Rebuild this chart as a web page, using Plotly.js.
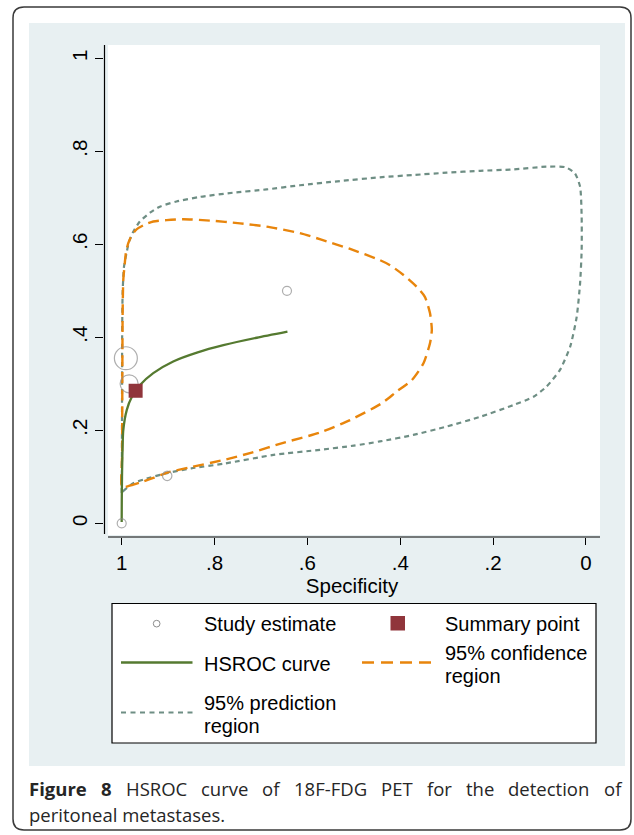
<!DOCTYPE html>
<html><head><meta charset="utf-8">
<script src="https://cdn.plot.ly/plotly-3.0.1.min.js"></script>
<style>html,body{margin:0;padding:0;background:#fff;}#chart{width:634px;height:835px;}</style>
</head><body><div id="chart"></div>
<script>
// ---------------- data ----------------
const studySpec   = [1.000, 0.991, 0.984, 0.902, 0.644];
const studySens   = [0.000, 0.355, 0.300, 0.102, 0.500];
const studyWeight = [1.0, 6.5, 4.0, 1.1, 1.0];

const summarySpec = [0.970];
const summarySens = [0.285];

const hsrocSpec = [1.000, 0.9998, 0.9993, 0.9987, 0.9966, 0.989, 0.978, 0.961, 0.932, 0.889, 0.838, 0.781, 0.709, 0.643];
const hsrocSens = [0.003, 0.050, 0.100, 0.136, 0.200, 0.244, 0.272, 0.297, 0.323, 0.348, 0.367, 0.383, 0.399, 0.412];

const confSpec = [0.999, 0.986, 0.960, 0.930, 0.902, 0.850, 0.781, 0.720, 0.652, 0.573, 0.508, 0.440, 0.408, 0.375, 0.350, 0.336, 0.332, 0.336, 0.347, 0.365, 0.393, 0.422, 0.444, 0.508, 0.570, 0.616, 0.688, 0.745, 0.810, 0.867, 0.903, 0.932, 0.953, 0.968, 0.978, 0.986, 0.991, 0.994, 0.9966, 0.998, 0.9985, 0.9988, 0.999, 0.999];
const confSens = [0.077, 0.080, 0.088, 0.098, 0.109, 0.121, 0.136, 0.152, 0.173, 0.195, 0.222, 0.258, 0.283, 0.308, 0.344, 0.387, 0.416, 0.452, 0.487, 0.509, 0.534, 0.555, 0.566, 0.590, 0.610, 0.624, 0.638, 0.645, 0.651, 0.654, 0.652, 0.649, 0.641, 0.632, 0.620, 0.602, 0.581, 0.552, 0.523, 0.450, 0.350, 0.250, 0.150, 0.077];

const predSpec = [0.9995, 0.9966, 0.975, 0.950, 0.902, 0.850, 0.781, 0.673, 0.573, 0.500, 0.444, 0.372, 0.300, 0.228, 0.157, 0.113, 0.085, 0.056, 0.034, 0.020, 0.0127, 0.0093, 0.0093, 0.0127, 0.024, 0.045, 0.085, 0.157, 0.228, 0.300, 0.372, 0.444, 0.530, 0.616, 0.688, 0.760, 0.831, 0.882, 0.918, 0.939, 0.961, 0.975, 0.984, 0.989, 0.995, 0.998, 0.999, 0.9992, 0.9994, 0.9995, 0.9995];
const predSens = [0.062, 0.069, 0.086, 0.095, 0.108, 0.118, 0.128, 0.147, 0.158, 0.167, 0.176, 0.190, 0.208, 0.229, 0.254, 0.272, 0.294, 0.330, 0.380, 0.444, 0.516, 0.588, 0.659, 0.724, 0.753, 0.766, 0.767, 0.761, 0.758, 0.754, 0.749, 0.744, 0.736, 0.727, 0.718, 0.711, 0.702, 0.692, 0.681, 0.668, 0.649, 0.627, 0.606, 0.584, 0.552, 0.495, 0.400, 0.300, 0.200, 0.100, 0.062];

const xTickVals = [1, 0.8, 0.6, 0.4, 0.2, 0];
const xTickText = ['1', '.8', '.6', '.4', '.2', '0'];
const yTickVals = [0, 0.2, 0.4, 0.6, 0.8, 1];
const yTickText = ['0', '.2', '.4', '.6', '.8', '1'];
const xAxisTitle = 'Specificity';

const legendLabels = ['Study estimate', 'Summary point', 'HSROC curve', '95% confidence', 'region', '95% prediction', 'region'];
const captionBold = 'Figure 8';
const captionLine1 = 'HSROC curve of 18F-FDG PET for the detection of';
const captionLine2 = 'peritoneal metastases.';

// ---------------- styling / layout ----------------
const C_HSROC = '#557a30', C_CONF = '#e8850c', C_PRED = '#6e8e84', C_SUM = '#90353b', C_STUDY = '#8c8c8c';
const BG = '#e8f0f2';
const FONT = 'Liberation Sans, Arial, sans-serif';
const FS = 20.5;
const LFS = 20;

const L = 104, T = 45, W = 496, H = 492;  // plot area in px
const px = x => (x - L) / W;
const py = y => (T + H - y) / H;

const traces = [
  {x: predSpec, y: predSens, type: 'scatter', mode: 'lines', name: '95% prediction region',
   line: {color: C_PRED, width: 2.2, dash: '5px,4px', shape: 'spline', smoothing: 0.6}, showlegend: false, hoverinfo: 'skip'},
  {x: confSpec, y: confSens, type: 'scatter', mode: 'lines', name: '95% confidence region',
   line: {color: C_CONF, width: 2.4, dash: '11px,6px', shape: 'spline', smoothing: 0.6}, showlegend: false, hoverinfo: 'skip'},
  {x: hsrocSpec, y: hsrocSens, type: 'scatter', mode: 'lines', name: 'HSROC curve',
   line: {color: C_HSROC, width: 2.3, shape: 'spline', smoothing: 0.6}, showlegend: false},
  {x: studySpec, y: studySens, type: 'scatter', mode: 'markers', name: 'Study estimate',
   marker: {symbol: 'circle-open', color: C_STUDY, size: studyWeight.map(w => 9 * Math.sqrt(w)), line: {width: 1.2, color: C_STUDY}}, showlegend: false},
  {x: summarySpec, y: summarySens, type: 'scatter', mode: 'markers', name: 'Summary point',
   marker: {symbol: 'square', color: C_SUM, size: 14, line: {width: 0}}, showlegend: false}
];

const shapes = [];
// outer frame (rounded)
(function(){
  const x0 = 13, y0 = 7, x1 = 631, y1 = 830, r = 11;
  const P = (x, y) => px(x) + ',' + py(y);
  const d = 'M' + P(x0 + r, y0) + ' L' + P(x1 - r, y0) + ' Q' + P(x1, y0) + ' ' + P(x1, y0 + r) +
            ' L' + P(x1, y1 - r) + ' Q' + P(x1, y1) + ' ' + P(x1 - r, y1) +
            ' L' + P(x0 + r, y1) + ' Q' + P(x0, y1) + ' ' + P(x0, y1 - r) +
            ' L' + P(x0, y0 + r) + ' Q' + P(x0, y0) + ' ' + P(x0 + r, y0) + ' Z';
  shapes.push({type: 'path', xref: 'paper', yref: 'paper', path: d, line: {color: '#3a3a3a', width: 1.5}, fillcolor: 'rgba(0,0,0,0)', layer: 'below'});
})();
const rect = (x0, y0, x1, y1, fill, line) => shapes.push({type: 'rect', xref: 'paper', yref: 'paper',
  x0: px(x0), x1: px(x1), y0: py(y1), y1: py(y0), fillcolor: fill, line: line || {width: 0}, layer: 'below'});
rect(29, 23, 625, 766, BG);
rect(108, 45, 600, 535, '#ffffff');
const seg = (x0, y0, x1, y1, line) => shapes.push({type: 'line', xref: 'paper', yref: 'paper',
  x0: px(x0), x1: px(x1), y0: py(y0), y1: py(y1), line: line, layer: 'above'});
// axis lines (Stata style, not meeting at the corner)
seg(104.5, 45, 104.5, 534, {color: '#000', width: 1.2});
seg(108, 537, 600, 537, {color: '#000', width: 1.2});
// legend box
rect(112, 603.5, 596, 743, '#ffffff', {color: '#000', width: 1.2});
// legend samples
shapes.push({type: 'circle', xref: 'paper', yref: 'paper', x0: px(153.3), x1: px(160), y0: py(627), y1: py(620.3),
  line: {color: C_STUDY, width: 1}, fillcolor: 'rgba(0,0,0,0)'});
rect(390.5, 616, 405, 630.5, C_SUM);
seg(121, 662.5, 192.5, 662.5, {color: C_HSROC, width: 2.3});
seg(362, 662.5, 435, 662.5, {color: C_CONF, width: 2.4, dash: '12px,7px'});
seg(121, 712.5, 192.5, 712.5, {color: C_PRED, width: 2.2, dash: '5px,4.5px'});

const annotations = [];
const txt = (s, x, y, opts) => annotations.push(Object.assign({text: s, xref: 'paper', yref: 'paper', x: px(x), y: py(y),
  xanchor: 'left', yanchor: 'middle', showarrow: false, borderpad: 0, font: {family: FONT, size: LFS, color: '#000'}}, opts || {}));
// legend labels
txt(legendLabels[0], 203, 624);
txt(legendLabels[1], 444, 624);
txt(legendLabels[2], 203, 664);
txt(legendLabels[3], 444, 652.5);
txt(legendLabels[4], 444, 675.5);
txt(legendLabels[5], 203, 703);
txt(legendLabels[6], 203, 726);

// caption, justified on line 1
(function(){
  const CF = 'Open Sans, Noto Sans, sans-serif', CS = 18.5, CC = '#262626';
  const ctx = document.createElement('canvas').getContext('2d');
  const words = [];
  captionBold.split(' ').forEach(w => words.push({t: w, b: true}));
  captionLine1.split(' ').forEach(w => words.push({t: w, b: false}));
  words.forEach(w => { ctx.font = (w.b ? 'bold ' : '') + CS + 'px "Open Sans"'; w.w = ctx.measureText(w.t).width; });
  const left = 28, right = 620;
  const total = words.reduce((s, w) => s + w.w, 0);
  const gap = (right - left - total) / (words.length - 1);
  let x = left;
  words.forEach(w => {
    txt(w.b ? '<b>' + w.t + '</b>' : w.t, x, 788, {font: {family: CF, size: CS, color: CC}});
    x += w.w + gap;
  });
  txt(captionLine2, left, 814, {font: {family: CF, size: CS, color: CC}});
})();

const layout = {
  width: 634, height: 835,
  margin: {l: L, r: 634 - L - W, t: T, b: 835 - T - H, pad: 0},
  paper_bgcolor: '#ffffff', plot_bgcolor: 'rgba(0,0,0,0)',
  showlegend: false,
  font: {family: FONT, size: FS, color: '#000'},
  xaxis: {range: [1.0381, -0.0302], tickvals: xTickVals, ticktext: xTickText, showgrid: false, zeroline: false,
    showline: false, ticks: 'outside', ticklen: 7, tickwidth: 1, tickcolor: '#000',
    tickfont: {family: FONT, size: FS, color: '#000'},
    title: {text: xAxisTitle, font: {family: FONT, size: FS, color: '#000'}, standoff: 0}},
  yaxis: {range: [-0.0295, 1.0286], tickvals: yTickVals, ticktext: yTickText, showgrid: false, zeroline: false,
    showline: false, ticks: 'outside', ticklen: 8, tickwidth: 1, tickcolor: '#000', tickangle: -90,
    tickfont: {family: FONT, size: FS, color: '#000'}},
  shapes: shapes,
  annotations: annotations
};

Plotly.newPlot('chart', traces, layout, {displayModeBar: false, staticPlot: true});
</script></body></html>
